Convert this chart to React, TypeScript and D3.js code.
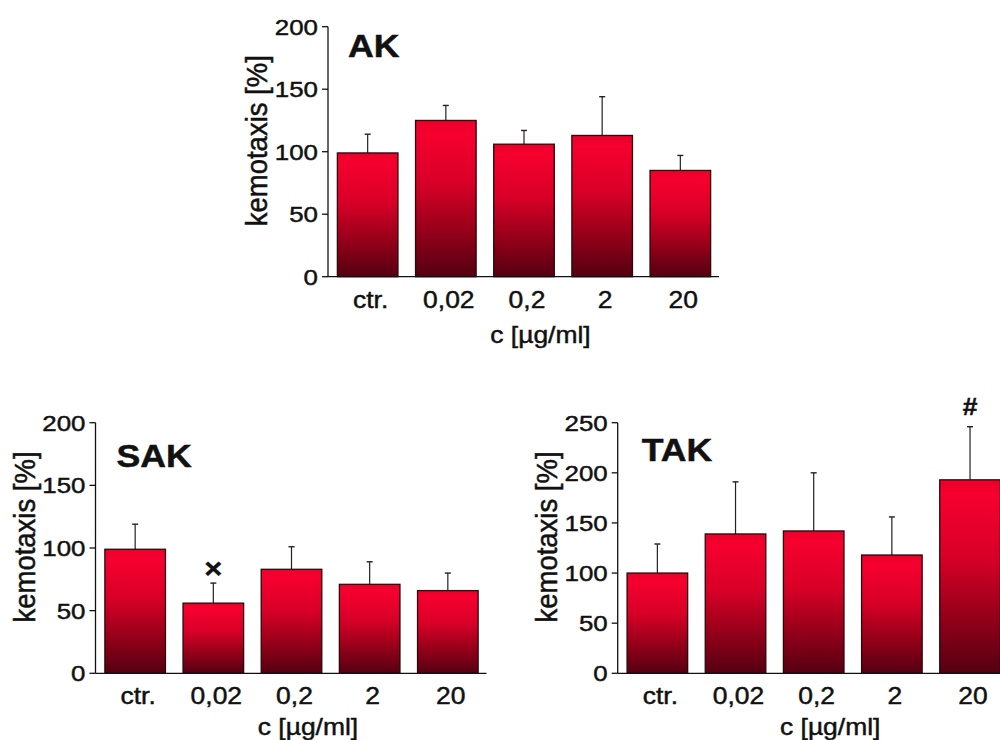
import React from "react";
import * as d3 from "d3";

const categories = ["ctr.", "0,02", "0,2", "2", "20"];

const akMean = [99, 125, 106, 113, 85];
const akSem = [15, 12, 11, 31, 12];

const sakMean = [99, 56, 83, 71, 66];
const sakSem = [20, 16, 18, 18, 14];

const takMean = [100, 139, 142, 118, 193];
const takSem = [29, 52, 58, 38, 53];

const ticks200 = [0, 50, 100, 150, 200];
const ticks250 = [0, 50, 100, 150, 200, 250];

const yLabel = "kemotaxis [%]";
const xLabel = "c [\u00b5g/ml]";

const FONT = "'Liberation Sans', Arial, Helvetica, sans-serif";
const SX = 1.15;
const INK = "#111";

type PanelCfg = {
  title: string;
  mean: number[];
  sem: number[];
  yMax: number;
  ticks: number[];
  axisX: number;
  yTop: number;
  yBottom: number;
  titleDx: number;
  titleDy: number;
  xLabelDy: number;
  marker?: { index: number; text: string; dy: number; size: number };
};

const panels: PanelCfg[] = [
  {
    title: "AK",
    mean: akMean,
    sem: akSem,
    yMax: 200,
    ticks: ticks200,
    axisX: 328,
    yTop: 26.7,
    yBottom: 276.7,
    titleDx: 20,
    titleDy: 30,
    xLabelDy: 66,
  },
  {
    title: "SAK",
    mean: sakMean,
    sem: sakSem,
    yMax: 200,
    ticks: ticks200,
    axisX: 95.5,
    yTop: 422.7,
    yBottom: 673.3,
    titleDx: 21,
    titleDy: 44,
    xLabelDy: 62,
    marker: { index: 1, text: "\u00d7", dy: -15, size: 28 },
  },
  {
    title: "TAK",
    mean: takMean,
    sem: takSem,
    yMax: 250,
    ticks: ticks250,
    axisX: 617.7,
    yTop: 422.7,
    yBottom: 673.3,
    titleDx: 24,
    titleDy: 38,
    xLabelDy: 62,
    marker: { index: 4, text: "#", dy: -20, size: 24 },
  },
];

const textInk = { fill: INK, stroke: INK, strokeWidth: 0.45 };

function Panel({ cfg }: { cfg: PanelCfg }) {
  const x = d3
    .scaleBand<string>()
    .domain(categories)
    .range([cfg.axisX, cfg.axisX + 392])
    .paddingInner(0.225)
    .paddingOuter(0.12);
  const y = d3.scaleLinear().domain([0, cfg.yMax]).range([cfg.yBottom, cfg.yTop]);
  const bw = x.bandwidth();
  const xEnd = cfg.axisX + 391;
  return (
    <g>
      {categories.map((c, i) => {
        const x0 = x(c)!;
        const top = y(cfg.mean[i]);
        const errTop = y(cfg.mean[i] + cfg.sem[i]);
        const cx = x0 + bw / 2;
        return (
          <g key={c}>
            <line x1={cx} x2={cx} y1={top} y2={errTop} stroke="#222" strokeWidth={1.2} />
            <line x1={cx - 3} x2={cx + 3} y1={errTop} y2={errTop} stroke="#222" strokeWidth={1.4} />
            <rect
              x={x0}
              y={top}
              width={bw}
              height={y(0) - top}
              fill="url(#barGrad)"
              stroke="#2a0808"
              strokeWidth={1.3}
            />
          </g>
        );
      })}
      <line x1={cfg.axisX} x2={cfg.axisX} y1={cfg.yTop} y2={cfg.yBottom} stroke={INK} strokeWidth={1.3} />
      <line x1={cfg.axisX} x2={xEnd} y1={cfg.yBottom} y2={cfg.yBottom} stroke={INK} strokeWidth={1.3} />
      {cfg.ticks.map((t) => (
        <g key={t}>
          <line x1={cfg.axisX - 6} x2={cfg.axisX} y1={y(t)} y2={y(t)} stroke={INK} strokeWidth={1.3} />
          <text
            transform={`translate(${cfg.axisX - 10},${y(t) + 8}) scale(${SX},1)`}
            textAnchor="end"
            fontFamily={FONT}
            fontSize={22.5}
            {...textInk}
          >
            {t}
          </text>
        </g>
      ))}
      {categories.map((c) => (
        <text
          key={c}
          transform={`translate(${x(c)! + bw / 2 + 3},${cfg.yBottom + 31}) scale(${SX},1)`}
          textAnchor="middle"
          fontFamily={FONT}
          fontSize={23}
          {...textInk}
        >
          {c}
        </text>
      ))}
      <text
        transform={`translate(${(cfg.axisX + xEnd) / 2 + 17},${cfg.yBottom + cfg.xLabelDy}) scale(${SX},1)`}
        textAnchor="middle"
        fontFamily={FONT}
        fontSize={23}
        {...textInk}
      >
        {xLabel}
      </text>
      <text
        transform={`translate(${cfg.axisX - 61},${(cfg.yTop + cfg.yBottom) / 2 - 11}) rotate(-90) scale(1,1.1)`}
        textAnchor="middle"
        fontFamily={FONT}
        fontSize={27.5}
        {...textInk}
      >
        {yLabel}
      </text>
      <text
        transform={`translate(${cfg.axisX + cfg.titleDx},${cfg.yTop + cfg.titleDy}) scale(${SX},1)`}
        fontFamily={FONT}
        fontSize={31}
        fontWeight="bold"
        {...textInk}
      >
        {cfg.title}
      </text>
      {cfg.marker && (() => {
        const m = cfg.marker!;
        const c = categories[m.index];
        const cx = x(c)! + bw / 2;
        const cy = y(cfg.mean[m.index] + cfg.sem[m.index]) + m.dy;
        return (
          <text
            transform={`translate(${cx},${cy + m.size * 0.36}) scale(1.1,1)`}
            textAnchor="middle"
            fontFamily={FONT}
            fontSize={m.size}
            fontWeight="bold"
            {...textInk}
          >
            {m.text}
          </text>
        );
      })()}
    </g>
  );
}

export default function App() {
  return (
    <svg
      width={1000}
      height={740}
      style={{ position: "absolute", left: 0, top: 0, background: "#fff" }}
    >
      <defs>
        <linearGradient id="barGrad" x1="0" y1="0" x2="0" y2="1">
          <stop offset="0" stopColor="#ea002b" />
          <stop offset="0.08" stopColor="#f6002f" />
          <stop offset="0.4" stopColor="#d80027" />
          <stop offset="0.72" stopColor="#920019" />
          <stop offset="1" stopColor="#540012" />
        </linearGradient>
      </defs>
      {panels.map((p) => (
        <Panel key={p.title} cfg={p} />
      ))}
    </svg>
  );
}
